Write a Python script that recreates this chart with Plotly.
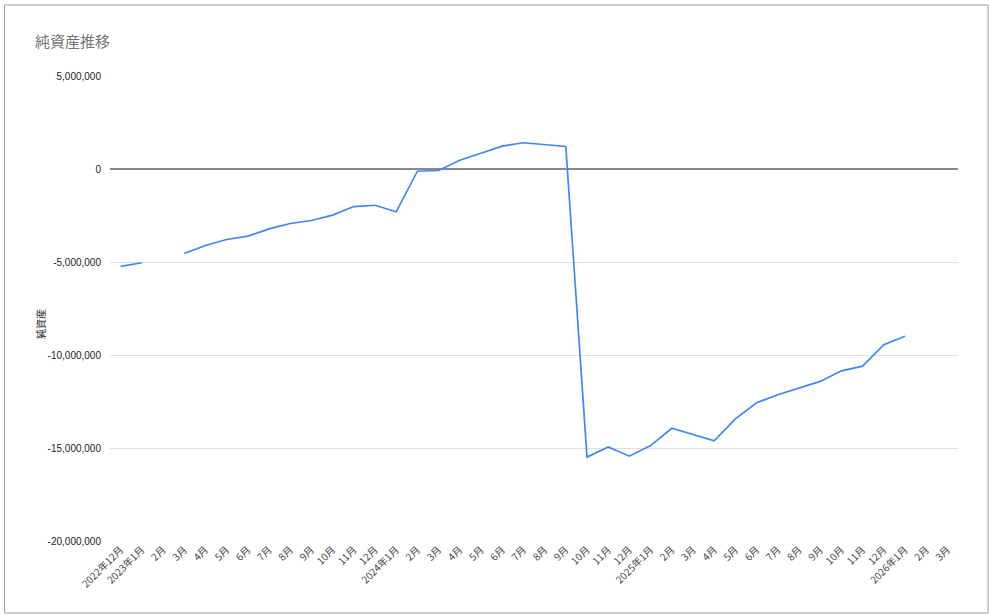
import plotly.graph_objects as go

months = ["2022年12月", "2023年1月", "2月", "3月", "4月", "5月", "6月", "7月", "8月", "9月", "10月", "11月", "12月",
          "2024年1月", "2月", "3月", "4月", "5月", "6月", "7月", "8月", "9月", "10月", "11月", "12月",
          "2025年1月", "2月", "3月", "4月", "5月", "6月", "7月", "8月", "9月", "10月", "11月", "12月",
          "2026年1月", "2月", "3月"]

net_assets = [-5240000, -5040000, None, -4540000, -4110000, -3790000, -3610000, -3220000, -2930000, -2770000, -2480000, -2020000, -1950000,
              -2300000, -120000, -80000, 470000, 850000, 1230000, 1410000, 1320000, 1210000, -15490000, -14940000, -15440000,
              -14870000, -13940000, -14290000, -14610000, -13430000, -12570000, -12140000, -11780000, -11420000, -10850000, -10600000, -9450000,
              -8990000, None, None]

y_ticks = [5000000, 0, -5000000, -10000000, -15000000, -20000000]
y_tick_text = ["5,000,000", "0", "-5,000,000", "-10,000,000", "-15,000,000", "-20,000,000"]

x_idx = list(range(len(months)))

fig = go.Figure()
fig.add_trace(go.Scatter(
    x=x_idx, y=net_assets, mode="lines",
    line=dict(color="#4285F4", width=1.7),
    connectgaps=False, hoverinfo="skip", showlegend=False,
))

fig.update_layout(
    width=989, height=616,
    margin=dict(l=110, r=31, t=76, b=75),
    paper_bgcolor="white", plot_bgcolor="white",
    font=dict(family="Arial, Liberation Sans, sans-serif", color="#222222"),
    title=dict(text="純資産推移", x=35/989, xanchor="left", y=1-42/616, yanchor="middle",
               font=dict(family="Noto Sans CJK JP, Roboto, sans-serif", size=15, color="#757575")),
    xaxis=dict(
        range=[-0.5, len(months) - 0.5],
        tickmode="array", tickvals=x_idx, ticktext=months,
        tickangle=-45, tickfont=dict(size=10, color="#444444", family="Noto Sans CJK JP, Arial, sans-serif"),
        showgrid=False, zeroline=False, showline=False, ticks="",
    ),
    yaxis=dict(
        range=[-20000000, 5000000],
        tickmode="array", tickvals=y_ticks, ticktext=y_tick_text,
        tickfont=dict(size=10, color="#222222"),
        showgrid=True, gridcolor="#E0E0E0", gridwidth=1,
        zeroline=True, zerolinecolor="#8A8A8A", zerolinewidth=1.5,
        showline=False, ticks="", ticklabelstandoff=8,
    ),
    annotations=[dict(text="純資産", xref="paper", yref="paper",
                      x=(40 - 110) / 848, y=(541 - 324) / 465, textangle=-90,
                      showarrow=False, xanchor="center", yanchor="middle",
                      font=dict(size=10, color="#222222", family="Noto Sans CJK JP, sans-serif"))],
    shapes=[dict(type="rect", xref="paper", yref="paper",
                 x0=(4.5 - 110) / 848, x1=(988 - 110) / 848,
                 y0=(541 - 613) / 465, y1=(541 - 5) / 465,
                 line=dict(color="#9E9E9E", width=1), fillcolor="rgba(0,0,0,0)", layer="below")],
)

fig.write_html("out.html", config={"displayModeBar": False},
               post_script="document.body.style.margin='0';document.body.style.overflow='hidden';")
